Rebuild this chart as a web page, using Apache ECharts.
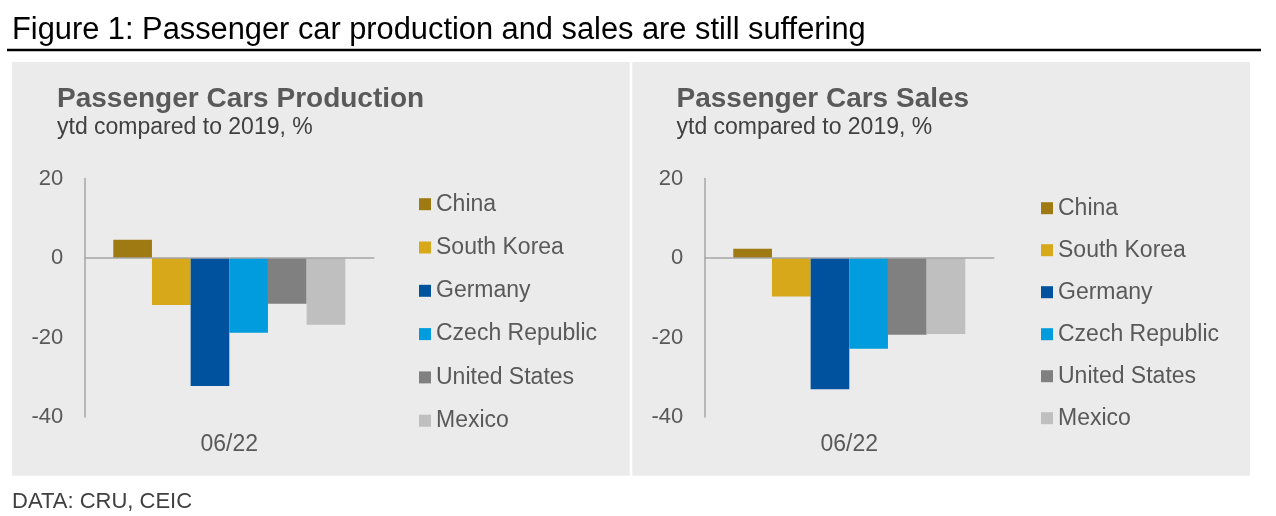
<!DOCTYPE html>
<html>
<head>
<meta charset="utf-8">
<title>Passenger car production and sales</title>
<script src="https://cdn.jsdelivr.net/npm/echarts@6/dist/echarts.min.js"></script>
<style>
    html, body { margin: 0; padding: 0; background: #fff; }
    #container { width: 1276px; height: 516px; }
</style>
</head>
<body>
<div id="container"></div>
<script>
// data
var categories = ['06/22'];
var countries = ['China', 'South Korea', 'Germany', 'Czech Republic', 'United States', 'Mexico'];
var productionValues = [4.6, -11.8, -32.2, -18.8, -11.5, -16.8];
var salesValues = [2.3, -9.7, -33.0, -22.8, -19.3, -19.1];
var yTicks = [-40, -20, 0, 20];
var colors = ['#9f7a13', '#d6a81a', '#00529f', '#009cde', '#808080', '#bfbfbf'];

var FONT = '"Liberation Sans", Arial, sans-serif';
var labelColor = '#595959';

/**
 * one bar series per country, for one grid
 */
function buildSeries(values, gridIdx) {
    return countries.map(function (name, i) {
        var s = {
            name: name,
            type: 'bar',
            xAxisIndex: gridIdx,
            yAxisIndex: gridIdx,
            barGap: 0,
            barCategoryGap: '20%',
            itemStyle: { color: colors[i] },
            data: [values[i]]
        };
        if (i === 0) {
            // zero line
            s.markLine = {
                silent: true,
                symbol: 'none',
                label: { show: false },
                lineStyle: { color: '#a6a6a6', type: 'solid', width: 1.5 },
                data: [{ yAxis: 0 }]
            };
        }
        return s;
    });
}

function xAxisFor(gridIdx) {
    return {
        type: 'category',
        gridIndex: gridIdx,
        data: categories,
        axisLine: { show: false, onZero: false },
        axisTick: { show: false },
        axisLabel: { color: labelColor, fontSize: 23, fontFamily: FONT, margin: 16 }
    };
}

function yAxisFor(gridIdx) {
    return {
        type: 'value',
        gridIndex: gridIdx,
        min: yTicks[0],
        max: yTicks[yTicks.length - 1],
        interval: 20,
        axisLine: { show: true, lineStyle: { color: '#a6a6a6', width: 1.5 } },
        axisTick: { show: false },
        splitLine: { show: false },
        axisLabel: { color: labelColor, fontSize: 22, fontFamily: FONT, margin: 21 }
    };
}

function legendFor(left, top, gap) {
    return {
        orient: 'vertical',
        left: left,
        top: top,
        padding: 0,
        icon: 'rect',
        itemWidth: 12,
        itemHeight: 12,
        itemGap: gap,
        selectedMode: false,
        data: countries,
        textStyle: { color: labelColor, fontSize: 23, fontFamily: FONT, lineHeight: 24 }
    };
}

function text(x, y, str, size, weight, color) {
    return {
        type: 'text',
        x: x,
        y: y,
        silent: true,
        style: {
            text: str,
            font: weight + ' ' + size + 'px ' + FONT,
            fill: color,
            verticalAlign: 'middle',
            align: 'left'
        }
    };
}

var chart = echarts.init(document.getElementById('container'));

var option = {
    animation: false,
    backgroundColor: '#ffffff',
    graphic: [
        { type: 'rect', z: -10, shape: { x: 12, y: 62, width: 617.7, height: 413.7 }, style: { fill: '#ebebeb' } },
        { type: 'rect', z: -10, shape: { x: 632.3, y: 62, width: 617.7, height: 413.7 }, style: { fill: '#ebebeb' } },
        { type: 'line', shape: { x1: 7, y1: 50, x2: 1261, y2: 50 }, style: { stroke: '#000', lineWidth: 2.5 } },
        text(12, 31, 'Figure 1: Passenger car production and sales are still suffering', 30.8, 'normal', '#000'),
        text(57, 99.5, 'Passenger Cars Production', 28, 'bold', '#595959'),
        text(57, 128, 'ytd compared to 2019, %', 23, 'normal', '#404040'),
        text(676.5, 99.5, 'Passenger Cars Sales', 28, 'bold', '#595959'),
        text(676.5, 128, 'ytd compared to 2019, %', 23, 'normal', '#404040'),
        text(12, 501.7, 'DATA: CRU, CEIC', 22, 'normal', '#404040')
    ],
    legend: [
        legendFor(419, 192.2, 19.3),
        legendFor(1041, 196.2, 18)
    ],
    grid: [
        { left: 84.3, top: 178.5, width: 290, height: 238.5 },
        { left: 704.3, top: 178.5, width: 290, height: 238.5 }
    ],
    xAxis: [xAxisFor(0), xAxisFor(1)],
    yAxis: [yAxisFor(0), yAxisFor(1)],
    series: buildSeries(productionValues, 0).concat(buildSeries(salesValues, 1))
};

chart.setOption(option);
</script>
</body>
</html>
